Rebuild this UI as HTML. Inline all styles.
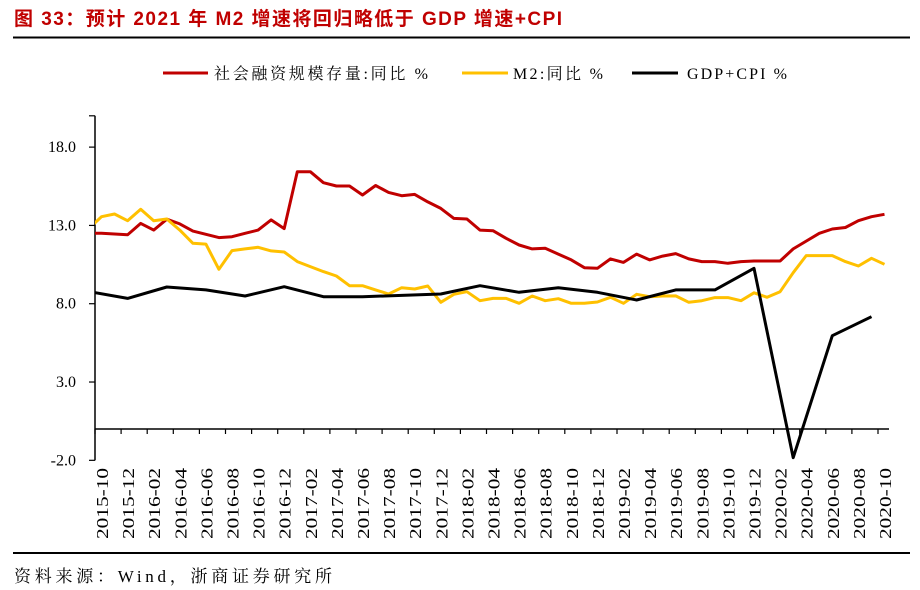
<!DOCTYPE html>
<html><head><meta charset="utf-8">
<style>
html,body{margin:0;padding:0;background:#fff;}
svg{display:block;}
</style></head>
<body>
<svg id="chart" width="920" height="590" xmlns="http://www.w3.org/2000/svg">
  <text x="14" y="25" textLength="548" lengthAdjust="spacing" font-family="'Liberation Sans','Noto Sans CJK SC',sans-serif" font-size="19" font-weight="bold" fill="#c00000">图  33：预计 2021 年 M2 增速将回归略低于 GDP 增速+CPI</text>
  <line x1="13" y1="37.5" x2="910" y2="37.5" stroke="#000" stroke-width="2"/>
  <g font-family="'Liberation Serif','Noto Serif CJK SC',serif" font-size="16" fill="#000">
    <g>
      <line x1="163" y1="73" x2="208" y2="73" stroke="#c00000" stroke-width="3"/>
      <text x="214" y="79" textLength="214" lengthAdjust="spacing">社会融资规模存量:同比 %</text>
    </g>
    <g>
      <line x1="462" y1="73" x2="508" y2="73" stroke="#ffc000" stroke-width="3"/>
      <text x="513" y="79" textLength="90" lengthAdjust="spacing">M2:同比 %</text>
    </g>
    <g>
      <line x1="632" y1="73" x2="678" y2="73" stroke="#000" stroke-width="3"/>
      <text x="687" y="79" textLength="100" lengthAdjust="spacing">GDP+CPI %</text>
    </g>
  </g>
  <g id="axes"></g>
  <g id="series"></g>
  <line x1="13" y1="553" x2="910" y2="553" stroke="#000" stroke-width="2"/>
  <text x="14" y="582" textLength="318" lengthAdjust="spacing" font-family="'Liberation Serif','Noto Serif CJK SC',serif" font-size="17" fill="#000">资料来源：Wind，浙商证券研究所</text>
</svg>
<script>
const months = [];
(function(){let y=2015,m=10;for(let i=0;i<61;i++){months.push(y+'-'+String(m).padStart(2,'0'));m++;if(m>12){m=1;y++;}}})();
const yTicks = [-2, 3, 8, 13, 18];
const tsfStart = 12.5;
const tsf = [12.5,12.45,12.4,13.13,12.7,13.4,13.1,12.64,12.43,12.22,12.28,12.5,12.7,13.35,12.8,16.43,16.43,15.73,15.52,15.52,14.94,15.55,15.11,14.9,14.98,14.5,14.09,13.45,13.41,12.7,12.66,12.18,11.75,11.5,11.54,11.17,10.8,10.3,10.26,10.86,10.64,11.17,10.8,11.04,11.2,10.86,10.69,10.69,10.58,10.69,10.73,10.73,10.73,11.5,12.0,12.5,12.77,12.87,13.3,13.56,13.71];
const m2Start = 12.77;
const m2 = [13.56,13.73,13.3,14.03,13.3,13.41,12.7,11.86,11.81,10.2,11.39,11.5,11.6,11.37,11.3,10.69,10.37,10.05,9.77,9.15,9.15,8.88,8.62,9.02,8.94,9.13,8.09,8.6,8.77,8.19,8.34,8.34,8.03,8.49,8.19,8.32,8.03,8.03,8.11,8.41,8.03,8.6,8.45,8.49,8.5,8.09,8.19,8.39,8.39,8.19,8.7,8.41,8.77,9.98,11.07,11.07,11.07,10.69,10.41,10.9,10.52];
const gdpMonths = ['2015-09','2015-12','2016-03','2016-06','2016-09','2016-12','2017-03','2017-06','2017-09','2017-12','2018-03','2018-06','2018-09','2018-12','2019-03','2019-06','2019-09','2019-12','2020-03','2020-06','2020-09'];
const gdpCpi = [8.78,8.34,9.07,8.88,8.49,9.09,8.45,8.45,8.53,8.62,9.15,8.73,9.02,8.73,8.24,8.88,8.88,10.26,-1.83,5.96,7.17];

const NS='http://www.w3.org/2000/svg';
const X0=101.5, STEP=13.05, AXL=95, AXR=889;
function xIdx(i){return X0+i*STEP;}
function xMonth(s){const [y,m]=s.split('-').map(Number);return xIdx((y-2015)*12+(m-10));}
function yv(v){return 429 - v*15.66;}
function el(tag,attrs,parent){const e=document.createElementNS(NS,tag);for(const k in attrs)e.setAttribute(k,attrs[k]);parent.appendChild(e);return e;}

const axes=document.getElementById('axes');
const yAxis=el('line',{x1:AXL,y1:yv(20),x2:AXL,y2:yv(-2),stroke:'#000','stroke-width':1.5},axes);


yTicks.forEach(t=>{
  const tk=el('line',{x1:AXL-6,y1:yv(t),x2:AXL,y2:yv(t),stroke:'#000','stroke-width':1.2},axes);
  
  
  const tx=el('text',{x:76,y:yv(t)+5,'text-anchor':'end','font-family':"'Liberation Serif',serif",'font-size':16},axes);
  tx.textContent=t.toFixed(1);
  
  
});
const ytop=el('line',{x1:AXL-6,y1:yv(20),x2:AXL,y2:yv(20),stroke:'#000','stroke-width':1.2},axes);


const xAxis=el('line',{x1:AXL,y1:yv(0),x2:AXR,y2:yv(0),stroke:'#000','stroke-width':1.5},axes);


for(let k=0;k<=30;k++){
  const x=AXL+k*2*STEP; if(x>AXR+1)break;
  const tk=el('line',{x1:x,y1:yv(0),x2:x,y2:yv(0)+5,stroke:'#000','stroke-width':1.2},axes);
  
  
}
months.forEach((m,i)=>{
  if(i%2)return;
  const x=xIdx(i);
  const tx=el('text',{x:0,y:0,transform:`translate(${x+6.5},468) rotate(-90)`,'text-anchor':'end','font-family':"'Liberation Serif',serif",'font-size':17,textLength:71,lengthAdjust:'spacingAndGlyphs'},axes);
  tx.textContent=m;
  
  
});

const ser=document.getElementById('series');
const defs=el('defs',{},ser);
const cp=el('clipPath',{id:'plotclip'},defs);
el('rect',{x:AXL,y:100,width:AXR-AXL+5,height:400},cp);
function drawLine(pts,color,name){
  const p=el('polyline',{points:pts.map(q=>q[0].toFixed(1)+','+q[1].toFixed(1)).join(' '),fill:'none',stroke:color,'stroke-width':3,'stroke-linejoin':'round','clip-path':'url(#plotclip)'},ser);
  
  
}
drawLine([[xIdx(-1),yv(tsfStart)]].concat(tsf.map((v,i)=>[xIdx(i),yv(v)])),'#c00000','series-tsf-line');
drawLine([[xIdx(-1),yv(m2Start)]].concat(m2.map((v,i)=>[xIdx(i),yv(v)])),'#ffc000','series-m2-line');
drawLine(gdpCpi.map((v,i)=>[xMonth(gdpMonths[i]),yv(v)]),'#000','series-gdp-cpi-line');
</script>
</body></html>
